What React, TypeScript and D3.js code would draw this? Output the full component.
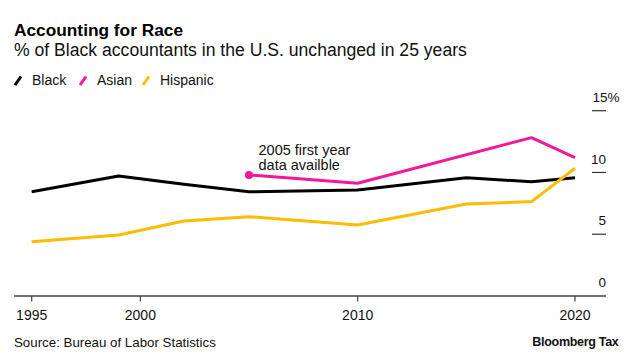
import React, { useEffect, useRef } from 'react';
import * as d3 from 'd3';

const years = [1995, 1999, 2002, 2005, 2010, 2015, 2018, 2020];
const black = [8.44, 9.72, 9.04, 8.44, 8.58, 9.58, 9.25, 9.58];
const asian = [null, null, null, 9.8, 9.13, null, 12.82, 11.2];
const hispanic = [4.4, 4.94, 6.07, 6.42, 5.75, 7.45, 7.64, 10.34];

const xTicks = [1995, 2000, 2010, 2020];
const yTicks = [0, 5, 10, 15];

const seriesNames = ['Black', 'Asian', 'Hispanic'];
const seriesColors = ['#000000', '#f5179a', '#fcbd00'];

const FONT = '"Liberation Sans", Arial, sans-serif';

export default function App() {
  const ref = useRef<SVGSVGElement>(null);

  useEffect(() => {
    const width = 633;
    const height = 363;
    const svg = d3.select(ref.current);
    svg.selectAll('*').remove();
    svg.attr('width', width).attr('height', height);

    svg.append('rect').attr('width', width).attr('height', height).attr('fill', '#fff');

    // titles
    svg.append('text').attr('x', 14).attr('y', 36)
      .attr('font-family', FONT).attr('font-weight', 700).attr('font-size', 17.3)
      .attr('fill', '#000').text('Accounting for Race');
    svg.append('text').attr('x', 14).attr('y', 55.5)
      .attr('font-family', FONT).attr('font-size', 17.6)
      .attr('fill', '#111').text('% of Black accountants in the U.S. unchanged in 25 years');

    // legend
    const legendX = [15, 80, 143];
    seriesNames.forEach((name, i) => {
      const lx = legendX[i];
      svg.append('line')
        .attr('x1', lx).attr('y1', 85).attr('x2', lx + 6).attr('y2', 76.5)
        .attr('stroke', seriesColors[i]).attr('stroke-width', 3);
      svg.append('text').attr('x', lx + 17).attr('y', 85)
        .attr('font-family', FONT).attr('font-size', 14)
        .attr('fill', '#111').text(name);
    });

    const x = d3.scaleLinear().domain([1995, 2020]).range([31.7, 575]);
    const y = d3.scaleLinear().domain([0, 15]).range([296, 110.7]);

    // y ticks on the right
    const gy = svg.append('g');
    yTicks.filter(t => t > 0).forEach(t => {
      gy.append('line')
        .attr('x1', 592).attr('x2', 606).attr('y1', y(t)).attr('y2', y(t))
        .attr('stroke', '#333').attr('stroke-width', 1.2);
    });
    yTicks.forEach(t => {
      const label = gy.append('text')
        .attr('x', 606).attr('y', y(t) - 8.8)
        .attr('font-family', FONT).attr('font-size', 13.5)
        .attr('fill', '#111').attr('text-anchor', 'end')
        .text(String(t));
      if (t === 15) {
        label.attr('text-anchor', 'start').attr('x', 592.5).text(t + '%');
      }
    });

    // x axis
    svg.append('line')
      .attr('x1', 14).attr('x2', 606).attr('y1', y(0)).attr('y2', y(0))
      .attr('stroke', '#444').attr('stroke-width', 1.3);
    const gx = svg.append('g').attr('transform', `translate(0,${y(0)})`);
    xTicks.forEach(t => {
      gx.append('line').attr('x1', x(t)).attr('x2', x(t)).attr('y1', 0).attr('y2', 5.5)
        .attr('stroke', '#444').attr('stroke-width', 1.2);
      gx.append('text').attr('x', x(t)).attr('y', 23.5)
        .attr('font-family', FONT).attr('font-size', 14)
        .attr('fill', '#111').attr('text-anchor', 'middle').text(String(t));
    });

    // lines
    const line = d3.line<[number, number]>()
      .x(d => x(d[0]))
      .y(d => y(d[1]));

    const allSeries = [black, asian, hispanic];
    allSeries.forEach((vals, i) => {
      const pts = years
        .map((yr, j) => [yr, vals[j]] as [number, number | null])
        .filter(p => p[1] !== null) as [number, number][];
      svg.append('path')
        .datum(pts)
        .attr('d', line)
        .attr('fill', 'none')
        .attr('stroke', seriesColors[i])
        .attr('stroke-width', 3)
        .attr('stroke-linejoin', 'round');
    });

    // annotation
    const asianStart = years.findIndex((_, j) => asian[j] !== null);
    svg.append('circle')
      .attr('cx', x(years[asianStart])).attr('cy', y(asian[asianStart] as number))
      .attr('r', 4).attr('fill', seriesColors[1]);
    const note = svg.append('text')
      .attr('font-family', FONT).attr('font-size', 14.5).attr('fill', '#111');
    note.append('tspan').attr('x', 258.5).attr('y', 155).text('2005 first year');
    note.append('tspan').attr('x', 258.5).attr('y', 169.5).text('data availble');

    // footer
    svg.append('text').attr('x', 14).attr('y', 346.5)
      .attr('font-family', FONT).attr('font-size', 13.3)
      .attr('fill', '#111').text('Source: Bureau of Labor Statistics');
    svg.append('text').attr('x', 618.5).attr('y', 346)
      .attr('font-family', FONT).attr('font-size', 12.5).attr('font-weight', 700)
      .attr('letter-spacing', -0.3)
      .attr('fill', '#111').attr('text-anchor', 'end').text('Bloomberg Tax');
  }, []);

  return (
    <svg ref={ref} style={{ position: 'absolute', left: 0, top: 0, display: 'block' }} />
  );
}
